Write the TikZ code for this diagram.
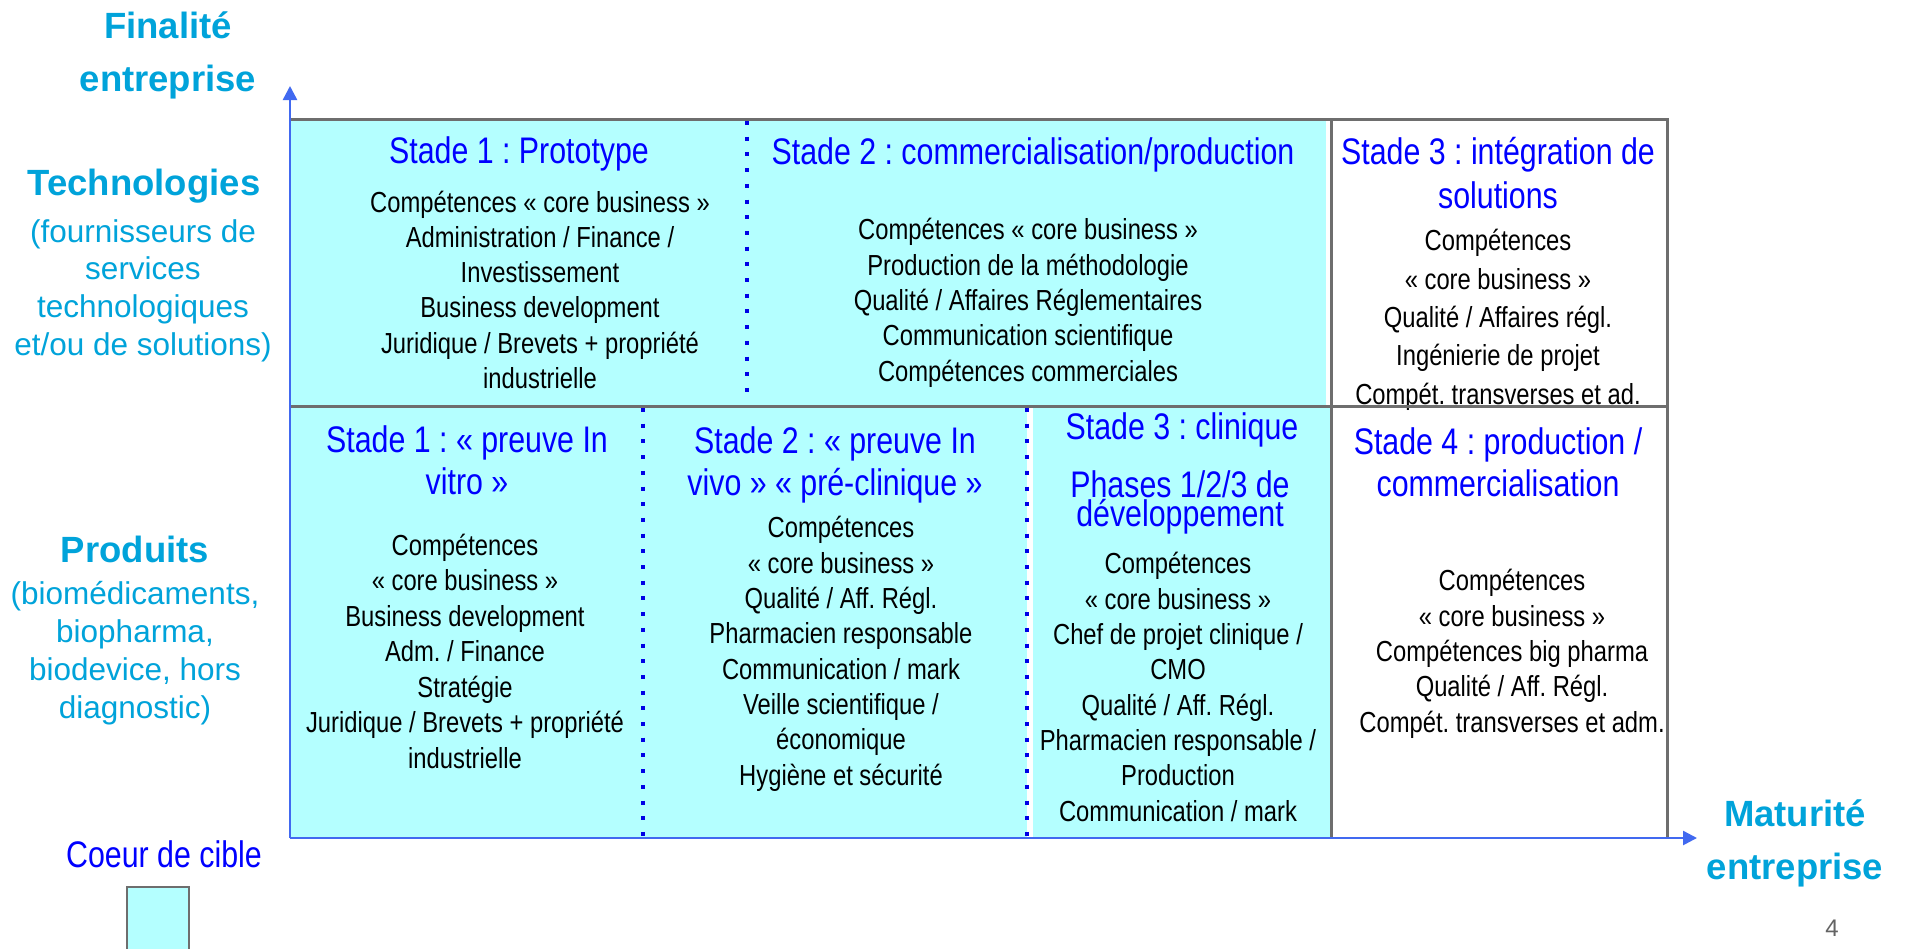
\documentclass[tikz,border=0pt]{standalone}
\usepackage{fontspec}
\setmainfont{Liberation Sans}
\newfontfamily\narrowfont{Liberation Sans}[FakeStretch=0.82]
\usetikzlibrary{arrows.meta}
\definecolor{cellcyan}{RGB}{180,255,255}
\definecolor{labcyan}{RGB}{0,163,218}
\definecolor{headblue}{RGB}{0,0,255}
\definecolor{gridgray}{RGB}{110,110,110}
\definecolor{axisblue}{RGB}{65,105,240}
\definecolor{dotblue}{RGB}{0,0,230}
\definecolor{pagegray}{RGB}{100,100,100}
\begin{document}
\frenchspacing
\begin{tikzpicture}[x=1pt,y=-1pt,
  every node/.style={inner sep=0pt, outer sep=0pt},
  body/.style={anchor=base, align=center, font=\narrowfont\fontsize{29}{35.3}\selectfont, text=black},
  head/.style={anchor=base, align=center, font=\narrowfont\fontsize{37}{42}\selectfont, text=headblue},
  axlab/.style={anchor=base, align=center, font=\bfseries\fontsize{36.5}{53}\selectfont, text=labcyan},
  sublab/.style={anchor=base, align=center, font=\fontsize{31.5}{37.8}\selectfont, text=labcyan},
  gridline/.style={draw=gridgray, line width=3pt},
  axisline/.style={draw=axisblue, line width=2.5pt, -{Triangle[length=14pt,width=14pt]}},
  dotline/.style={draw=dotblue, line width=4.5pt, dash pattern=on 4pt off 11.7pt},
]
\fill[white] (0,0) rectangle (1908,948);
\useasboundingbox (0,0) rectangle (1908,948);
% fills
\fill[cellcyan] (290,119) rectangle (1326,406);
\fill[cellcyan] (290,406) rectangle (1027,838);
\fill[cellcyan] (1033,406) rectangle (1331,838);
% coordinates
\coordinate (O) at (290,838);
\coordinate (ytip) at (290,86);
\coordinate (xtip) at (1697,838);
\coordinate (tl) at (290,119);
\coordinate (tr) at (1667,119);
\coordinate (br) at (1667,838);
\coordinate (ml) at (290,406);
\coordinate (mr) at (1667,406);
\coordinate (vt) at (1331,119);
\coordinate (vb) at (1331,838);
\coordinate (d1t) at (747,121);
\coordinate (d1b) at (747,396);
\coordinate (d2t) at (643,408);
\coordinate (d2b) at (643,843);
\coordinate (d3t) at (1027,408);
\coordinate (d3b) at (1027,838);
% legend box
\node[draw=gridgray, line width=2.5pt, fill=cellcyan, minimum width=62pt, minimum height=80pt, anchor=north west] (legbox) at (127,887) {};
% side labels (multi-line nodes anchored at the baseline of their last line)
\node[axlab] (fin) at (168,91) {Finalité\\entreprise};
\node[axlab] (tech) at (144,195) {Technologies};
\node[sublab] (techsub) at (143,355.5) {(fournisseurs de\\services\\technologiques\\et/ou de solutions)};
\node[axlab] (prod) at (135,562) {Produits};
\node[sublab] (prodsub) at (135,718) {(biomédicaments,\\biopharma,\\biodevice, hors\\diagnostic)};
\node[head] (coeur) at (164,867) {Coeur de cible};
\node[axlab] (mat) at (1795,879) {Maturité\\entreprise};
\node[anchor=base, font=\fontsize{24}{28}\selectfont, text=pagegray] (page) at (1832,936) {4};
% top row
\node[head] (h1) at (519,163) {Stade 1 : Prototype};
\node[body] (b1) at (540,388.5) {Compétences « core business »\\Administration / Finance /\\Investissement\\Business development\\Juridique / Brevets + propriété\\industrielle};
\node[head] (h2) at (1033,164) {Stade 2 : commercialisation/production};
\node[body] (b2) at (1028,381) {Compétences « core business »\\Production de la méthodologie\\Qualité / Affaires Réglementaires\\Communication scientifique\\Compétences commerciales};
\node[head, font=\narrowfont\fontsize{37}{44}\selectfont] (h3) at (1498,208) {Stade 3 : intégration de\\solutions};
\node[body, font=\narrowfont\fontsize{29}{38.3}\selectfont] (b3) at (1498,404) {Compétences\\« core business »\\Qualité / Affaires régl.\\Ingénierie de projet\\Compét. transverses et ad.};
% bottom row
\node[head] (p1) at (467,494) {Stade 1 : « preuve In\\vitro »};
\node[body, font=\narrowfont\fontsize{29}{35.5}\selectfont] (q1) at (465,768) {Compétences\\« core business »\\Business development\\Adm. / Finance\\Stratégie\\Juridique / Brevets + propriété\\industrielle};
\node[head] (p2) at (835,495) {Stade 2 : « preuve In\\vivo » « pré-clinique »};
\node[body] (q2) at (841,785) {Compétences\\« core business »\\Qualité / Aff. Régl.\\Pharmacien responsable\\Communication / mark\\Veille scientifique /\\économique\\Hygiène et sécurité};
\node[head] (p3) at (1182,439) {Stade 3 : clinique};
\node[head, font=\narrowfont\fontsize{37}{29.5}\selectfont] (p3b) at (1180,526.5) {Phases 1/2/3 de\\développement};
\node[body] (q3) at (1178,821) {Compétences\\« core business »\\Chef de projet clinique /\\CMO\\Qualité / Aff. Régl.\\Pharmacien responsable /\\Production\\Communication / mark};
\node[head] (p4) at (1498,496) {Stade 4 : production /\\commercialisation};
\node[body] (q4) at (1512,732) {Compétences\\« core business »\\Compétences big pharma\\Qualité / Aff. Régl.\\Compét. transverses et adm.};
% grid lines
\draw[gridline] (tl) -- (tr) -- (br);
\draw[gridline] (ml) -- (mr);
\draw[gridline] (vt) -- (vb);
% dotted separators
\draw[dotline] (d1t) -- (d1b);
\draw[dotline] (d2t) -- (d2b);
\draw[dotline] (d3t) -- (d3b);
% axes
\draw[axisline] (O) -- (ytip);
\draw[axisline] (O) -- (xtip);
\end{tikzpicture}
\end{document}
